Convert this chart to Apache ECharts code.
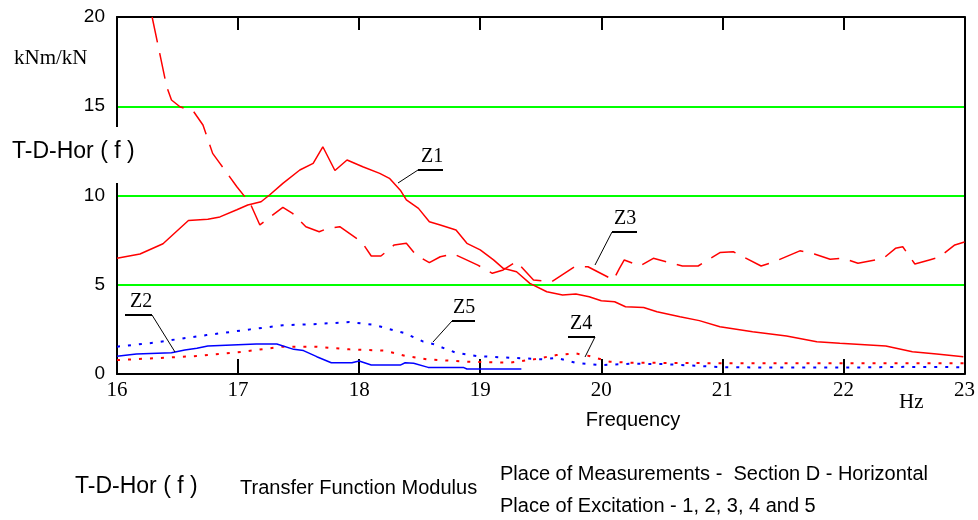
<!DOCTYPE html>
<html><head><meta charset="utf-8">
<script src="https://cdn.jsdelivr.net/npm/echarts@6/dist/echarts.min.js"></script>
<style>html,body{margin:0;padding:0;background:#fff}#c{width:978px;height:520px}</style>
</head><body><div id="c"></div>
<script>
const xTicks = [16, 17, 18, 19, 20, 21, 22, 23];
const yTicks = [0, 5, 10, 15, 20];
const z1 = [[16.0,6.48],[16.19,6.72],[16.38,7.3],[16.59,8.6],[16.75,8.67],[16.85,8.8],[16.99,9.2],[17.08,9.47],[17.19,9.65],[17.26,10.03],[17.37,10.68],[17.51,11.43],[17.62,11.8],[17.70,12.73],[17.80,11.4],[17.90,11.99],[18.03,11.61],[18.17,11.24],[18.25,10.96],[18.34,10.3],[18.39,9.75],[18.49,9.28],[18.58,8.53],[18.67,8.35],[18.80,8.07],[18.89,7.32],[19.0,6.95],[19.11,6.39],[19.19,5.92],[19.30,5.73],[19.41,5.08],[19.55,4.61],[19.68,4.43],[19.79,4.48],[19.90,4.33],[20.0,4.1],[20.11,4.05],[20.2,3.77],[20.35,3.73],[20.46,3.49],[20.65,3.21],[20.81,2.99],[20.98,2.65],[21.25,2.37],[21.53,2.13],[21.78,1.81],[21.97,1.72],[22.35,1.57],[22.57,1.25],[22.77,1.12],[22.99,0.97]];
const z2 = [[16.0,1.0],[16.16,1.12],[16.45,1.19],[16.56,1.34],[16.66,1.44],[16.75,1.57],[17.15,1.68],[17.32,1.68],[17.46,1.38],[17.54,1.31],[17.65,0.97],[17.77,0.63],[17.94,0.63],[18.0,0.73],[18.1,0.5],[18.34,0.5],[18.38,0.63],[18.45,0.6],[18.57,0.37],[18.86,0.37],[18.89,0.28],[19.34,0.28]];
const z3 = [[16.29,20],[16.33,18.7],[16.41,16.1],[16.45,15.35],[16.52,14.97],[16.63,14.73],[16.71,13.95],[16.79,12.36],[16.85,11.8],[16.99,10.49],[17.1,9.56],[17.18,8.35],[17.26,8.78],[17.37,9.34],[17.45,9.0],[17.56,8.25],[17.67,7.97],[17.74,8.16],[17.84,8.25],[18.02,7.41],[18.1,6.61],[18.18,6.61],[18.29,7.23],[18.39,7.32],[18.47,6.67],[18.58,6.24],[18.67,6.57],[18.78,6.72],[18.86,6.48],[18.98,6.1],[19.1,5.64],[19.19,5.83],[19.3,6.3],[19.44,5.27],[19.59,5.17],[19.78,6.01],[19.89,6.01],[20.1,5.27],[20.15,5.92],[20.19,6.39],[20.32,6.05],[20.43,6.48],[20.67,6.05],[20.8,6.05],[20.98,6.8],[21.09,6.85],[21.32,6.05],[21.43,6.29],[21.64,6.9],[21.76,6.72],[21.89,6.43],[22.0,6.48],[22.12,6.2],[22.33,6.48],[22.43,7.04],[22.49,7.13],[22.59,6.16],[22.71,6.39],[22.79,6.54],[22.92,7.23],[23.0,7.4]];
const z4 = [[16.0,0.78],[16.3,0.88],[16.66,1.01],[17.04,1.25],[17.37,1.53],[17.65,1.53],[17.92,1.38],[18.2,1.31],[18.28,1.19],[18.39,1.0],[18.56,0.82],[18.89,0.69],[19.24,0.63],[19.44,0.82],[19.63,1.06],[19.79,1.15],[19.9,1.01],[20.07,0.69],[20.26,0.63],[20.6,0.62],[21.0,0.6],[21.5,0.6],[22.0,0.6],[22.5,0.6],[23.0,0.6]];
const z5 = [[16.0,1.53],[16.3,1.75],[16.49,1.94],[16.74,2.18],[17.1,2.5],[17.37,2.73],[17.65,2.8],[17.92,2.91],[18.12,2.76],[18.28,2.46],[18.38,2.28],[18.53,1.81],[18.61,1.68],[18.8,1.19],[18.97,1.01],[19.16,0.94],[19.35,0.88],[19.52,0.82],[19.63,0.9],[19.79,0.62],[20.0,0.5],[20.26,0.58],[20.54,0.55],[20.81,0.45],[21.0,0.38],[21.5,0.36],[22.0,0.36],[22.5,0.4],[23.0,0.38]];

const chart = echarts.init(document.getElementById('c'), null, {renderer:'canvas'});
const SANS = '"Liberation Sans", Arial, sans-serif';
const SERIF = '"Liberation Serif", "Times New Roman", serif';
const axisLine = {show:true, onZero:false, lineStyle:{color:'#000', width:2}};
function ann(name, tx, ty, ux1, ux2, lx2, ly2){
  return [
    {type:'text', z:100, style:{x:tx, y:ty, text:name, font:'20px '+SERIF, fill:'#000', textVerticalAlign:'bottom'}},
    {type:'line', z:100, shape:{x1:ux1, y1:ty+3, x2:ux2, y2:ty+3}, style:{stroke:'#000', lineWidth:2}},
    {type:'line', z:100, shape:{x1:name==='Z2'||name==='Z4'?ux2:ux1, y1:ty+3, x2:lx2, y2:ly2}, style:{stroke:'#000', lineWidth:1}}
  ];
}
const line = (data, color, type, w) => ({type:'line', data, symbol:'none', animation:false,
  lineStyle:{color, width:w, type}, z:5});
chart.setOption({
  animation:false,
  grid:{left:117, right:13, top:17, bottom:146, containLabel:false},
  xAxis:[{type:'value', min:16, max:23, interval:1, position:'bottom',
    axisLine, axisTick:{show:true, inside:true, length:15, lineStyle:{color:'#000', width:2}},
    axisLabel:{color:'#000', fontFamily:SERIF, fontSize:21, margin:6, formatter:v=>xTicks.includes(v)?String(v):''},
    splitLine:{show:false}},
    {type:'value', min:16, max:23, interval:1, position:'top',
    axisLine, axisTick:{show:true, inside:true, length:13, lineStyle:{color:'#000', width:2}},
    axisLabel:{show:false}, splitLine:{show:false}}],
  yAxis:[{type:'value', min:0, max:20, interval:5, position:'left',
    axisLine, axisTick:{show:false},
    axisLabel:{color:'#000', fontFamily:SANS, fontSize:19, margin:12, formatter:v=>yTicks.includes(v)?String(v):''},
    splitLine:{show:true, showMinLine:false, showMaxLine:false, lineStyle:{color:'#00ff00', width:2}}},
    {type:'value', min:0, max:20, interval:5, position:'right',
    axisLine, axisTick:{show:false}, axisLabel:{show:false}, splitLine:{show:false}}],
  series:[
    line(z1, '#ff0000', 'solid', 1.5),
    line(z3, '#ff0000', [26, 11], 1.5),
    line(z4, '#ff0000', [3, 8], 2),
    line(z2, '#0000ff', 'solid', 1.5),
    line(z5, '#0000ff', [3, 8], 2)
  ],
  graphic:[
    {type:'rect', z:90, shape:{x:108, y:127, width:16, height:56}, style:{fill:'#fff'}},
    {type:'text', z:100, style:{x:12, y:152, text:'T-D-Hor ( f )', font:'23px '+SANS, fill:'#000', textVerticalAlign:'middle'}},
    {type:'text', z:100, style:{x:14, y:58, text:'kNm/kN', font:'21px '+SERIF, fill:'#000', textVerticalAlign:'middle'}},
    {type:'text', z:100, style:{x:899, y:402, text:'Hz', font:'21px '+SERIF, fill:'#000', textVerticalAlign:'middle'}},
    {type:'text', z:100, style:{x:633, y:420, text:'Frequency', font:'20px '+SANS, fill:'#000', textAlign:'center', textVerticalAlign:'middle'}},
    {type:'text', z:100, style:{x:75, y:487, text:'T-D-Hor ( f )', font:'23px '+SANS, fill:'#000', textVerticalAlign:'middle'}},
    {type:'text', z:100, style:{x:240, y:488, text:'Transfer Function Modulus', font:'20px '+SANS, fill:'#000', textVerticalAlign:'middle'}},
    {type:'text', z:100, style:{x:500, y:474, text:'Place of Measurements -  Section D - Horizontal', font:'20px '+SANS, fill:'#000', textVerticalAlign:'middle'}},
    {type:'text', z:100, style:{x:500, y:506, text:'Place of Excitation - 1, 2, 3, 4 and 5', font:'20px '+SANS, fill:'#000', textVerticalAlign:'middle'}},
    ...ann('Z1', 421, 167, 418, 443, 398, 183),
    ...ann('Z3', 614, 229, 612, 637, 595, 265),
    ...ann('Z2', 130, 312, 125, 152, 175, 352),
    ...ann('Z5', 453, 318, 452, 475, 433, 342),
    ...ann('Z4', 570, 334, 568, 595, 585, 357)
  ]
});
</script></body></html>
